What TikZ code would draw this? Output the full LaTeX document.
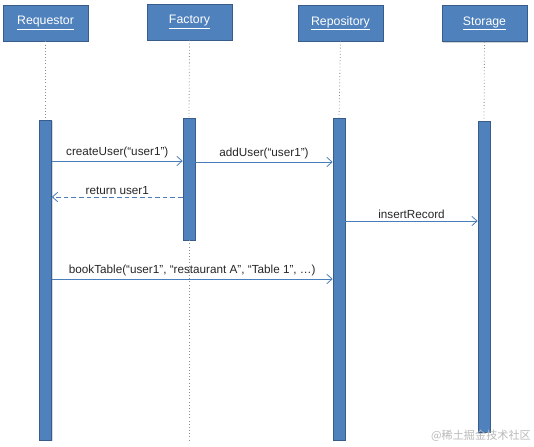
\documentclass[tikz,border=0pt]{standalone}
\usepackage{fontspec}
\setmainfont{Liberation Sans}
\newfontfamily\cjkfont{Noto Sans CJK SC}
\usetikzlibrary{arrows.meta,shadows}
\definecolor{boxfill}{HTML}{4F81BD}
\definecolor{boxline}{HTML}{385D8A}
\definecolor{msgline}{HTML}{4A7EBB}
\tikzset{
  lifebox/.style={draw=boxline, fill=boxfill, line width=0.6pt,
                  minimum width=85*0.3mm, minimum height=36*0.3mm,
                  text=white, font=\fontsize{10.5}{12}\selectfont, inner sep=0pt,
                  drop shadow={shadow xshift=1.2pt, shadow yshift=-1.2pt, opacity=0.35}},
  actbar/.style={draw=boxline, fill=boxfill, line width=0.5pt,
                 minimum width=12*0.3mm, inner sep=0pt,
                 drop shadow={shadow xshift=1pt, shadow yshift=-1pt, opacity=0.3}},
  lifeline/.style={gray!90, dotted, line width=0.7pt},
  msg/.style={msgline, line width=0.7pt, -{Straight Barb[length=4.5pt, width=8pt]}},
  retmsg/.style={msg, dash pattern=on 4pt off 2.5pt},
  msglabel/.style={text=black!85, font=\fontsize{10}{12}\selectfont, inner sep=2pt},
}

\begin{document}
\begin{tikzpicture}[x=0.03cm, y=-0.03cm]
  \useasboundingbox (0,0) rectangle (534,446);

  % participants
  \node[lifebox] (req)  at (45.5,23)  {\underline{Requestor}};
  \node[lifebox] (fac)  at (189.5,22) {\underline{Factory}};
  \node[lifebox] (repo) at (340.5,23) {\underline{Repository}};
  \node[lifebox] (sto)  at (484.5,23.5) {\underline{Storage}};

  % activation bars
  \node[actbar, minimum height=320*0.3mm] (reqbar)  at (45.5,280)  {};
  \node[actbar, minimum height=122*0.3mm] (facbar)  at (189,179)   {};
  \node[actbar, minimum height=322*0.3mm] (repobar) at (339,279)   {};
  \node[actbar, minimum height=311*0.3mm] (stobar)  at (484,276.5) {};

  % lifelines
  \coordinate (bottom) at (0,440);
  \draw[lifeline] (req.south) -- (reqbar.north);
  \draw[lifeline] (fac.south) -- (facbar.north);
  \draw[lifeline] (facbar.south) -- (facbar.south |- bottom);
  \draw[lifeline] (repo.south) -- (repobar.north);
  \draw[lifeline] (sto.south) -- (stobar.north);

  % messages
  \coordinate (m1) at (0,161);
  \coordinate (m2) at (0,162);
  \coordinate (m3) at (0,197);
  \coordinate (m4) at (0,221);
  \coordinate (m5) at (0,279);
  \draw[msg] (reqbar.east |- m1) -- (facbar.west |- m1)
    node[midway, above, msglabel] {createUser(``user1'')};
  \draw[msg] (facbar.east |- m2) -- (repobar.west |- m2)
    node[midway, above, msglabel] {addUser(``user1'')};
  \draw[retmsg] (facbar.west |- m3) -- (reqbar.east |- m3)
    node[midway, above, msglabel] {return user1};
  \draw[msg] (repobar.east |- m4) -- (stobar.west |- m4)
    node[midway, above, msglabel] {insertRecord};
  \draw[msg] (reqbar.east |- m5) -- (repobar.west |- m5)
    node[midway, above, msglabel] {bookTable(``user1'', ``restaurant A'', ``Table 1'', \dots)};

  % watermark
  \node[text=gray!55, font=\cjkfont\fontsize{9.5}{11}\selectfont, anchor=east, inner sep=0pt]
    (mark) at (531,436) {@稀土掘金技术社区};
\end{tikzpicture}
\end{document}
